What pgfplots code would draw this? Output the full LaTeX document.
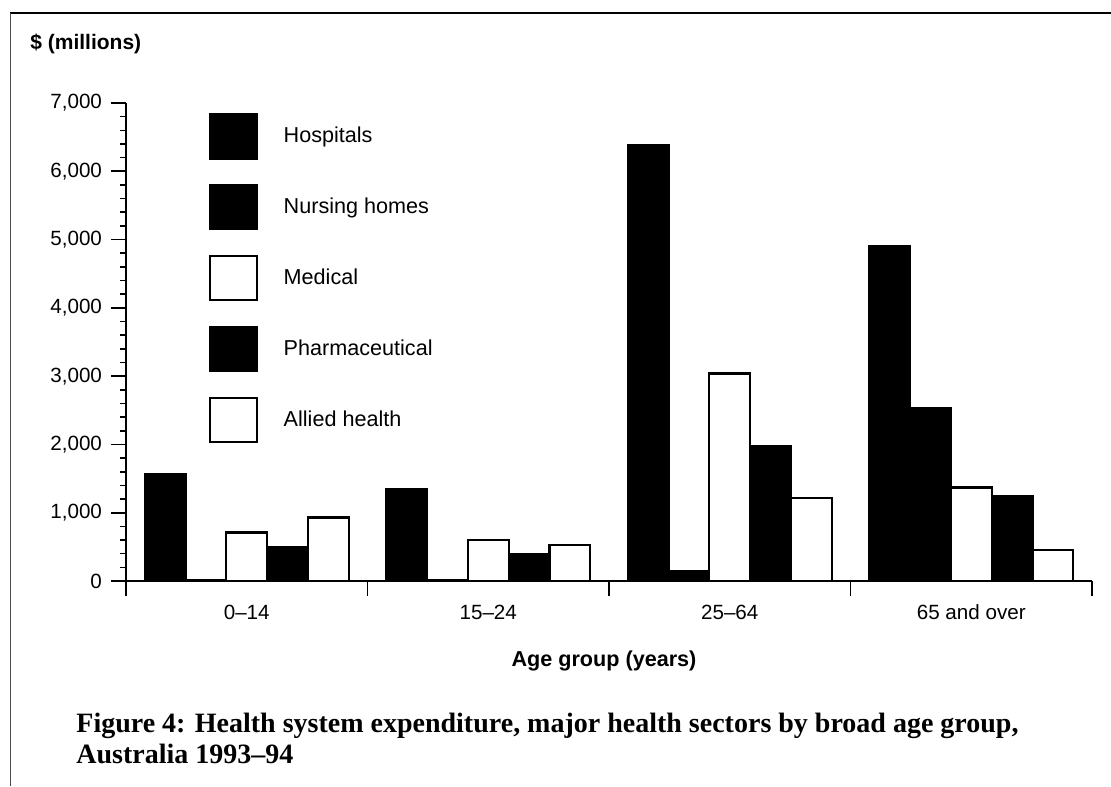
\documentclass[border=0pt]{standalone}
\usepackage{pgfplots}
\pgfplotsset{compat=1.18}
\usepackage{fontspec}
\setmainfont{Liberation Sans}
\newfontfamily\capfont{Liberation Serif}
\begin{document}
\begin{tikzpicture}
\useasboundingbox (0,0) rectangle (555.5pt,393pt);
\fill[white] (0,0) rectangle (555.5pt,393pt);
\draw[line width=0.7pt] (5pt,386.5pt) -- (555.5pt,386.5pt);
\draw[line width=0.5pt, black!70] (5pt,386.5pt) -- (5pt,0pt);
\begin{axis}[
  at={(63pt,102.5pt)}, anchor=south west,
  scale only axis, width=483pt, height=239pt,
  xmin=-0.5, xmax=3.5, ymin=0, ymax=7000,
  axis x line*=bottom, axis y line*=left,
  axis line style={-, line width=1pt},
  ybar=0pt, bar width=0.169,
  xtick={-0.5,0.5,1.5,2.5,3.5},
  xticklabels={0–14,15–24,25–64,65 and over},
  x tick label as interval,
  ytick={0,1000,...,7000},
  minor y tick num=4,
  tick align=outside,
  major tick length=7.5pt, minor tick length=3pt,
  tick style={line width=0.8pt, black},
  /pgf/number format/assume math mode=true,
  /pgf/number format/1000 sep={,},
  ticklabel style={font=\fontsize{10.3}{12}\selectfont},
  xticklabel style={yshift=-1pt},
  yticklabel style={xshift=-1pt},
  legend image code/.code={\draw[#1, line width=1.1pt] (0pt,-11pt) rectangle (23.5pt,11pt);},
  legend style={at={(axis description cs:0.085,0.979)}, anchor=north west,
    draw=none, fill=none, inner sep=0pt, row sep=12.3pt, column sep=13pt,
    nodes={inner sep=0pt, anchor=west}, font=\fontsize{10.8}{12}\selectfont},
  legend cell align=left,
]
\addplot[fill=black, draw=black, line width=1.1pt] coordinates {(0,1570) (1,1350) (2,6380) (3,4900)};
\addplot[fill=black, draw=black, line width=1.1pt] coordinates {(0,20) (1,15) (2,150) (3,2525)};
\addplot[fill=white, draw=black, line width=1.1pt] coordinates {(0,710) (1,600) (2,3040) (3,1370)};
\addplot[fill=black, draw=black, line width=1.1pt] coordinates {(0,500) (1,395) (2,1970) (3,1250)};
\addplot[fill=white, draw=black, line width=1.1pt] coordinates {(0,930) (1,525) (2,1220) (3,455)};
\legend{Hospitals,Nursing homes,Medical,Pharmaceutical,Allied health}
\end{axis}
\node[anchor=west, inner sep=0pt, font=\bfseries\fontsize{10.5}{12}\selectfont] at (15pt,371pt) {\$ (millions)};
\node[anchor=center, font=\bfseries\fontsize{10.8}{12}\selectfont] at (302pt,62.5pt) {Age group (years)};
\node[anchor=base west, font=\capfont\bfseries\fontsize{14}{16}\selectfont, inner sep=0pt] at (38pt,27pt) {Figure 4: Health system expenditure, major health sectors by broad age group,};
\node[anchor=base west, font=\capfont\bfseries\fontsize{14}{16}\selectfont, inner sep=0pt] at (38pt,11.5pt) {Australia 1993–94};
\end{tikzpicture}
\end{document}
